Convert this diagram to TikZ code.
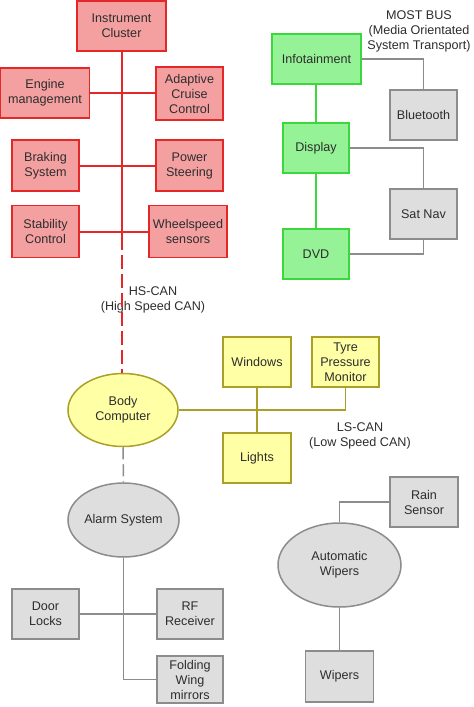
\documentclass[tikz,border=0pt]{standalone}
\usepackage{fontspec}
\setmainfont{Liberation Sans}
\usetikzlibrary{shapes.geometric}
\definecolor{redfill}{RGB}{245,160,160}
\definecolor{redline}{RGB}{228,40,40}
\definecolor{greenfill}{RGB}{150,242,150}
\definecolor{greenline}{RGB}{60,215,60}
\definecolor{yelfill}{RGB}{255,255,165}
\definecolor{yelline}{RGB}{170,160,40}
\definecolor{grayfill}{RGB}{222,222,222}
\definecolor{grayline}{RGB}{140,140,140}
\definecolor{txt}{RGB}{45,45,45}
\tikzset{
  base/.style={rectangle, inner sep=0pt, align=center, text=txt,
    font=\fontsize{12.6}{15}\selectfont, line width=1.5pt},
  redbox/.style={base, draw=redline, fill=redfill},
  greenbox/.style={base, draw=greenline, fill=greenfill},
  yelbox/.style={base, draw=yelline, fill=yelfill},
  graybox/.style={base, draw=grayline, fill=grayfill},
  ell/.style={base, ellipse, inner sep=0pt},
  lbl/.style={align=center, text=txt, font=\fontsize{12.6}{15}\selectfont},
  redbus/.style={draw=redline, line width=2pt},
  greenbus/.style={draw=greenline, line width=2pt},
  yelbus/.style={draw=yelline, line width=1.8pt},
  graybus/.style={draw=grayline, line width=1.5pt},
}
\begin{document}
\begin{tikzpicture}[x=1pt,y=-1pt]
\useasboundingbox (0,0) rectangle (474,707);
% red HS-CAN nodes
\node[redbox, minimum width=89, minimum height=50] (ic) at (121.5,26) {Instrument\\Cluster};
\node[redbox, minimum width=89, minimum height=50] (em) at (45,93) {Engine\\management};
\node[redbox, minimum width=67, minimum height=53] (acc) at (189.5,93.5) {Adaptive\\Cruise\\Control};
\node[redbox, minimum width=67, minimum height=51] (bs) at (45.5,165.5) {Braking\\System};
\node[redbox, minimum width=67, minimum height=51] (ps) at (189.5,165.5) {Power\\Steering};
\node[redbox, minimum width=78, minimum height=52] (ws) at (188,231.5) {Wheelspeed\\sensors};
\node[redbox, minimum width=67, minimum height=52] (sc) at (45.5,231.5) {Stability\\Control};
% green MOST nodes
\node[greenbox, minimum width=89, minimum height=50] (inf) at (316.5,59) {Infotainment};
\node[greenbox, minimum width=66, minimum height=50] (disp) at (316,148) {Display};
\node[greenbox, minimum width=66, minimum height=50] (dvd) at (316,254) {DVD};
\node[graybox, minimum width=67, minimum height=50] (bt) at (423.5,115) {Bluetooth};
\node[graybox, minimum width=67, minimum height=50] (sn) at (423.5,214) {Sat Nav};
% yellow LS-CAN nodes
\node[ell, draw=yelline, fill=yelfill, minimum width=110, minimum height=73] (bc) at (123,410) {Body\\Computer};
\node[yelbox, minimum width=68, minimum height=50] (win) at (257,362) {Windows};
\node[yelbox, minimum width=67, minimum height=50] (tpm) at (345.5,362) {Tyre\\Pressure\\Monitor};
\node[yelbox, minimum width=68, minimum height=50] (lig) at (257,458) {Lights};
% gray nodes
\node[ell, draw=grayline, fill=grayfill, minimum width=111, minimum height=74] (al) at (123.5,520) {Alarm System};
\node[graybox, minimum width=67, minimum height=50] (dl) at (45.5,614) {Door\\Locks};
\node[graybox, minimum width=66, minimum height=50] (rf) at (190,614) {RF\\Receiver};
\node[graybox, minimum width=66, minimum height=47] (fw) at (190,679.5) {Folding\\Wing\\mirrors};
\node[ell, draw=grayline, fill=grayfill, minimum width=123, minimum height=84] (aw) at (339.5,565) {Automatic\\Wipers};
\node[graybox, minimum width=68, minimum height=50] (rs) at (424,502) {Rain\\Sensor};
\node[graybox, minimum width=68, minimum height=51] (wp) at (339.5,676.5) {Wipers};
% labels
\node[lbl] (hslbl) at (153,300) {HS-CAN\\(High Speed CAN)};
\node[lbl] (mostlbl) at (419,31) {MOST BUS\\(Media Orientated\\System Transport)};
\node[lbl] (lslbl) at (360,436) {LS-CAN\\(Low Speed CAN)};
% red bus
\coordinate (hs) at (122,236);
\draw[redbus] (ic.south -| hs) -- (hs);
\draw[redbus, dash pattern=on 14pt off 5pt] (hs) -- (hs |- bc.north);
\draw[redbus] (em.east) -- (em.east -| acc.west);
\draw[redbus] (bs.east) -- (ps.west);
\draw[redbus] (sc.east) -- (ws.west);
% green bus
\draw[greenbus] (inf.south -| disp) -- (disp.north);
\draw[greenbus] (disp.south) -- (dvd.north);
\draw[graybus] (inf.east) -| (bt.north);
\draw[graybus] (disp.east) -| (sn.north);
\draw[graybus] (dvd.east) -| (sn.south);
% yellow bus
\draw[yelbus] (bc.east) -| (tpm.south);
\draw[yelbus] (win.south) -- (lig.north);
% gray
\draw[graybus, dash pattern=on 12pt off 5pt] (bc.south) -- (al.north);
\draw[graybus] (al.south) |- (fw.west);
\draw[graybus] (dl.east) -- (rf.west);
\draw[graybus] (aw.north) |- (rs.west);
\draw[graybus] (aw.south) -- (wp.north);
\end{tikzpicture}
\end{document}
